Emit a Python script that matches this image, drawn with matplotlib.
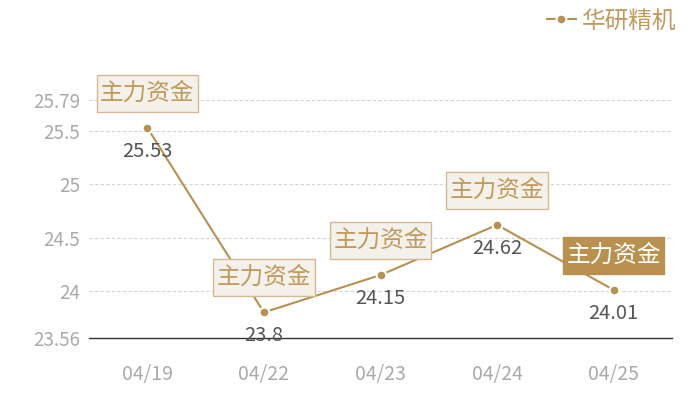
import matplotlib
matplotlib.use("Agg")
import matplotlib.pyplot as plt
from matplotlib.path import Path
import numpy as np

plt.rcParams['font.family'] = ['Noto Sans CJK SC', 'DejaVu Sans']

dates = ["04/19", "04/22", "04/23", "04/24", "04/25"]
prices = [25.53, 23.8, 24.15, 24.62, 24.01]
y_ticks = [23.56, 24, 24.5, 25, 25.5, 25.79]
y_tick_labels = ["23.56", "24", "24.5", "25", "25.5", "25.79"]
tag_text = "主力资金"
series_name = "华研精机"

gold = "#b8904f"
tag_fg = "#c09a5f"


def tag_box(x0, y0, width, height, mutation_size):
    # wider vertical padding than horizontal, like the reference tags
    px, py = 3.5, 7.0
    x0, y0 = x0 - px, y0 - py
    x1, y1 = x0 + width + 2 * px, y0 + height + 2 * py
    return Path([(x0, y0), (x1, y0), (x1, y1), (x0, y1), (x0, y0)],
                closed=True)


fig = plt.figure(figsize=(7, 4), dpi=100)
ax = fig.add_axes([89 / 700, 62 / 400, 583 / 700, 238 / 400])

x = np.arange(len(dates))
ax.plot(x, prices, color=gold, lw=1.5, marker="o", ms=7,
        mfc=gold, mec="white", mew=1.5, label=series_name, zorder=3)

ax.set_xlim(-0.5, len(dates) - 0.5)
ax.set_ylim(y_ticks[0], y_ticks[-1])
ax.set_xticks(x)
ax.set_xticklabels(dates)
ax.set_yticks(y_ticks)
ax.set_yticklabels(y_tick_labels)
ax.tick_params(axis="both", length=0, colors="#aaaaaa")
ax.tick_params(axis="x", pad=19, labelsize=14)
ax.tick_params(axis="y", pad=6.5, labelsize=13.5)

for s in ["top", "right", "left"]:
    ax.spines[s].set_visible(False)
ax.spines["bottom"].set_color("#333333")
ax.spines["bottom"].set_linewidth(1)

for v in y_ticks[1:]:
    ax.axhline(v, color="#d5d5d5", lw=0.8, ls=(0, (3, 2)), zorder=1)

# value labels below points
for i, v in enumerate(prices):
    ax.annotate(str(v), (i, v), xytext=(0, -17), textcoords="offset points",
                ha="center", va="center", fontsize=14.5, color="#555555", zorder=4)

# tag boxes above points, the last one highlighted
for i, v in enumerate(prices):
    last = i == len(prices) - 1
    ax.annotate(tag_text, (i, v), xytext=(0, 25), textcoords="offset points",
                ha="center", va="center", fontsize=17,
                color="white" if last else tag_fg, zorder=5,
                bbox=dict(boxstyle=tag_box,
                          fc=gold if last else "#f4f0ea",
                          ec=gold if last else "#d4b994", lw=1))

leg = ax.legend(loc="center right", bbox_to_anchor=(676 / 700, 1 - 21 / 400),
                bbox_transform=fig.transFigure, frameon=False,
                fontsize=17, handlelength=1.2, handletextpad=0.25,
                borderaxespad=0, borderpad=0)
for t in leg.get_texts():
    t.set_color(tag_fg)

fig.savefig("out.png", dpi=100)
